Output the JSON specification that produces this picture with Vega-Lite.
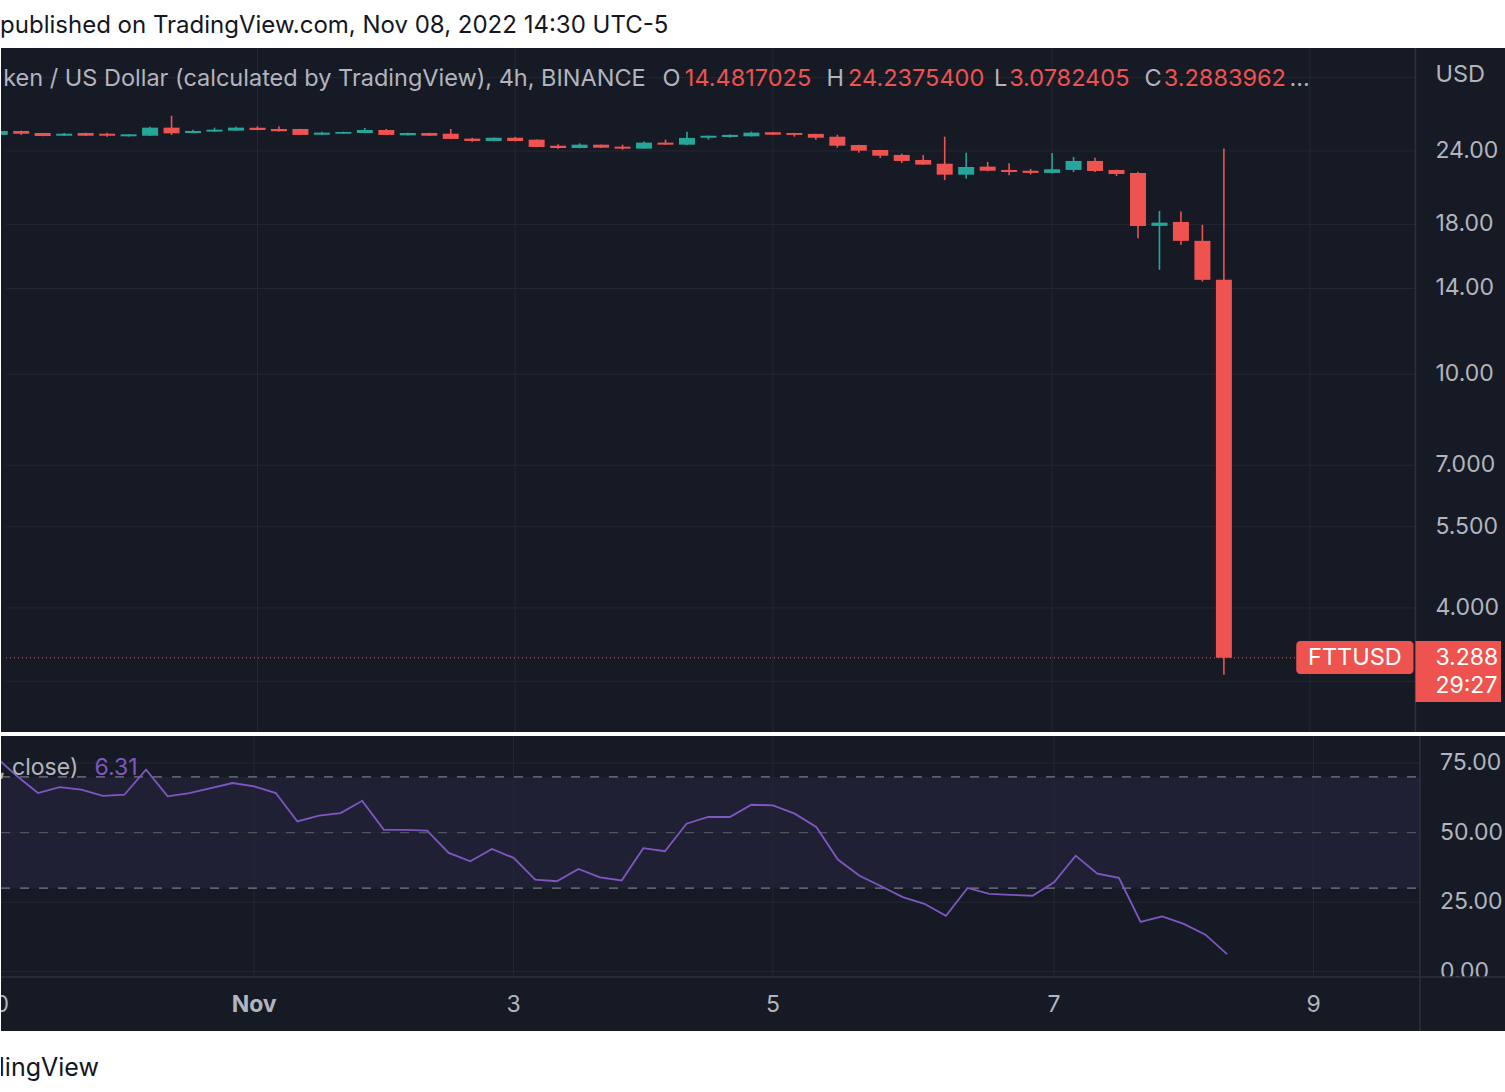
{
  "$schema": "https://vega.github.io/schema/vega-lite/v6.json",
  "background": "#ffffff",
  "padding": 0,
  "spacing": 2,
  "config": {"view": {"stroke": null}, "font": "Inter", "text": {"font": "Inter"}},
  "resolve": {"scale": {"x": "independent", "y": "independent"}},
  "datasets": {
    "bars": [
      {"i":0,"o":25.56,"h":26.00,"l":25.50,"c":25.96,"rsi":77.5},
      {"i":1,"o":25.96,"h":25.98,"l":25.56,"c":25.68,"rsi":70.5},
      {"i":2,"o":25.75,"h":25.77,"l":25.43,"c":25.45,"rsi":64.2},
      {"i":3,"o":25.48,"h":25.75,"l":25.46,"c":25.68,"rsi":66.3},
      {"i":4,"o":25.75,"h":25.78,"l":25.46,"c":25.48,"rsi":65.4},
      {"i":5,"o":25.68,"h":25.79,"l":25.38,"c":25.48,"rsi":63.2},
      {"i":6,"o":25.42,"h":25.65,"l":25.40,"c":25.62,"rsi":63.6},
      {"i":7,"o":25.48,"h":26.40,"l":25.46,"c":26.30,"rsi":72.6},
      {"i":8,"o":26.30,"h":27.56,"l":25.56,"c":25.72,"rsi":63.0},
      {"i":9,"o":25.75,"h":26.09,"l":25.73,"c":25.96,"rsi":64.2},
      {"i":10,"o":25.89,"h":26.30,"l":25.87,"c":26.09,"rsi":66.0},
      {"i":11,"o":25.99,"h":26.40,"l":25.97,"c":26.30,"rsi":67.8},
      {"i":12,"o":26.30,"h":26.44,"l":26.03,"c":26.06,"rsi":66.6},
      {"i":13,"o":26.16,"h":26.44,"l":25.91,"c":25.93,"rsi":64.2},
      {"i":14,"o":26.16,"h":26.18,"l":25.54,"c":25.56,"rsi":54.0},
      {"i":15,"o":25.58,"h":25.89,"l":25.56,"c":25.79,"rsi":56.1},
      {"i":16,"o":25.68,"h":25.89,"l":25.66,"c":25.86,"rsi":57.0},
      {"i":17,"o":25.75,"h":26.27,"l":25.73,"c":26.06,"rsi":61.4},
      {"i":18,"o":26.06,"h":26.16,"l":25.54,"c":25.56,"rsi":51.0},
      {"i":19,"o":25.52,"h":25.78,"l":25.50,"c":25.75,"rsi":51.0},
      {"i":20,"o":25.75,"h":25.78,"l":25.46,"c":25.48,"rsi":50.7},
      {"i":21,"o":25.68,"h":26.16,"l":25.14,"c":25.16,"rsi":42.7},
      {"i":22,"o":25.19,"h":25.28,"l":24.88,"c":24.96,"rsi":39.7},
      {"i":23,"o":24.96,"h":25.30,"l":24.94,"c":25.28,"rsi":44.1},
      {"i":24,"o":25.28,"h":25.38,"l":24.94,"c":24.96,"rsi":40.9},
      {"i":25,"o":25.09,"h":25.11,"l":24.36,"c":24.38,"rsi":33.1},
      {"i":26,"o":24.50,"h":24.63,"l":24.22,"c":24.28,"rsi":32.5},
      {"i":27,"o":24.28,"h":24.73,"l":24.26,"c":24.60,"rsi":36.9},
      {"i":28,"o":24.60,"h":24.62,"l":24.29,"c":24.31,"rsi":33.9},
      {"i":29,"o":24.41,"h":24.60,"l":24.12,"c":24.22,"rsi":32.8},
      {"i":30,"o":24.22,"h":24.90,"l":24.20,"c":24.80,"rsi":44.4},
      {"i":31,"o":24.80,"h":25.09,"l":24.58,"c":24.60,"rsi":43.3},
      {"i":32,"o":24.60,"h":25.89,"l":24.58,"c":25.26,"rsi":53.2},
      {"i":33,"o":25.28,"h":25.50,"l":25.09,"c":25.48,"rsi":55.6},
      {"i":34,"o":25.35,"h":25.62,"l":25.28,"c":25.56,"rsi":55.6},
      {"i":35,"o":25.42,"h":25.89,"l":25.40,"c":25.79,"rsi":60.0},
      {"i":36,"o":25.83,"h":25.86,"l":25.56,"c":25.58,"rsi":59.8},
      {"i":37,"o":25.75,"h":25.77,"l":25.38,"c":25.56,"rsi":56.8},
      {"i":38,"o":25.66,"h":25.68,"l":25.09,"c":25.28,"rsi":52.0},
      {"i":39,"o":25.38,"h":25.58,"l":24.31,"c":24.50,"rsi":40.3},
      {"i":40,"o":24.57,"h":24.59,"l":23.84,"c":24.03,"rsi":34.5},
      {"i":41,"o":24.09,"h":24.11,"l":23.35,"c":23.56,"rsi":30.7},
      {"i":42,"o":23.63,"h":23.75,"l":22.90,"c":23.08,"rsi":26.8},
      {"i":43,"o":23.17,"h":23.63,"l":22.73,"c":22.75,"rsi":24.4},
      {"i":44,"o":22.83,"h":25.38,"l":21.42,"c":21.87,"rsi":20.1},
      {"i":45,"o":21.87,"h":23.84,"l":21.53,"c":22.54,"rsi":30.1},
      {"i":46,"o":22.57,"h":22.99,"l":22.16,"c":22.21,"rsi":28.0},
      {"i":47,"o":22.28,"h":22.87,"l":21.82,"c":22.10,"rsi":27.6},
      {"i":48,"o":22.21,"h":22.37,"l":21.90,"c":22.02,"rsi":27.3},
      {"i":49,"o":22.02,"h":23.81,"l":22.00,"c":22.34,"rsi":32.1},
      {"i":50,"o":22.28,"h":23.44,"l":22.10,"c":23.08,"rsi":41.7},
      {"i":51,"o":23.08,"h":23.38,"l":22.10,"c":22.19,"rsi":35.2},
      {"i":52,"o":22.28,"h":22.30,"l":21.76,"c":21.93,"rsi":33.7},
      {"i":53,"o":22.02,"h":22.13,"l":17.05,"c":17.89,"rsi":17.9},
      {"i":54,"o":17.89,"h":18.97,"l":15.06,"c":18.12,"rsi":19.9},
      {"i":55,"o":18.17,"h":18.92,"l":16.61,"c":16.87,"rsi":17.2},
      {"i":56,"o":16.87,"h":17.96,"l":14.38,"c":14.48,"rsi":13.3},
      {"i":57,"o":14.4817025,"h":24.23754,"l":3.0782405,"c":3.2883962,"rsi":6.31}
    ],
    "pgrid": [{"v":32},{"v":24},{"v":18},{"v":14},{"v":10},{"v":7},{"v":5.5},{"v":4},{"v":3}],
    "vgrid": [{"i":12},{"i":24},{"i":36},{"i":49},{"i":61}],
    "plabels": [{"v":24,"t":"24.00"},{"v":18,"t":"18.00"},{"v":14,"t":"14.00"},{"v":10,"t":"10.00"},{"v":7,"t":"7.000"},{"v":5.5,"t":"5.500"},{"v":4,"t":"4.000"}],
    "rgrid": [{"v":75},{"v":50},{"v":25},{"v":0}],
    "rlabels": [{"v":75,"t":"75.00"},{"v":50,"t":"50.00"},{"v":25,"t":"25.00"},{"v":0,"t":"0.00"}],
    "dates": [{"i":0,"t":"30"},{"i":24,"t":"3"},{"i":36,"t":"5"},{"i":49,"t":"7"},{"i":61,"t":"9"}]
  },
  "vconcat": [
    {
      "width": 1505, "height": 45,
      "view": {"fill": "#ffffff"},
      "data": {"values": [{}]},
      "mark": {"type": "text", "align": "left", "baseline": "alphabetic", "fontSize": 24, "color": "#131722", "clip": true},
      "encoding": {
        "x": {"datum": 0.25, "type": "quantitative", "scale": {"domain": [0.2914, 69.903], "nice": false, "zero": false}, "axis": null},
        "y": {"datum": 0.27, "type": "quantitative", "scale": {"domain": [0, 1], "nice": false}, "axis": null},
        "text": {"value": "published on TradingView.com, Nov 08, 2022 14:30 UTC-5"}
      }
    },
    {
      "width": 1505, "height": 684,
      "view": {"fill": "#161a25"},
      "layer": [
        {
          "data": {"name": "pgrid"},
          "mark": {"type": "rule", "color": "#242833", "strokeWidth": 1},
          "encoding": {
            "x": {"datum": 0.2914, "type": "quantitative", "scale": {"domain": [0.2914, 69.903], "nice": false, "zero": false}, "axis": null},
            "x2": {"datum": 65.92},
            "y": {"field": "v", "type": "quantitative", "scale": {"type": "log", "domain": [2.4587, 35.94], "nice": false}, "axis": null}
          }
        },
        {
          "data": {"name": "vgrid"},
          "mark": {"type": "rule", "color": "#242833", "strokeWidth": 1},
          "encoding": {
            "x": {"field": "i", "type": "quantitative", "scale": {"domain": [0.2914, 69.903], "nice": false, "zero": false}, "axis": null}
          }
        },
        {
          "data": {"values": [{}]},
          "mark": {"type": "rule", "color": "#2e323d", "strokeWidth": 1.5},
          "encoding": {
            "x": {"datum": 65.92, "type": "quantitative", "scale": {"domain": [0.2914, 69.903], "nice": false, "zero": false}, "axis": null}
          }
        },
        {
          "data": {"values": [{}]},
          "mark": {"type": "rule", "color": "#ef5350", "strokeWidth": 1, "strokeDash": [1, 3]},
          "encoding": {
            "x": {"datum": 0.2914, "type": "quantitative", "scale": {"domain": [0.2914, 69.903], "nice": false, "zero": false}, "axis": null},
            "x2": {"datum": 60.37},
            "y": {"datum": 3.2883962, "type": "quantitative", "scale": {"type": "log", "domain": [2.4587, 35.94], "nice": false}, "axis": null}
          }
        },
        {
          "data": {"name": "bars"},
          "mark": {"type": "rule", "strokeWidth": 1.6, "clip": true},
          "encoding": {
            "x": {"field": "i", "type": "quantitative", "scale": {"domain": [0.2914, 69.903], "nice": false, "zero": false}, "axis": null},
            "y": {"field": "l", "type": "quantitative", "scale": {"type": "log", "domain": [2.4587, 35.94], "nice": false}, "axis": null},
            "y2": {"field": "h"},
            "color": {"condition": {"test": "datum.c >= datum.o", "value": "#26a69a"}, "value": "#ef5350"}
          }
        },
        {
          "data": {"name": "bars"},
          "mark": {"type": "bar", "width": 16, "clip": true},
          "encoding": {
            "x": {"field": "i", "type": "quantitative", "scale": {"domain": [0.2914, 69.903], "nice": false, "zero": false}, "axis": null},
            "y": {"field": "o", "type": "quantitative", "scale": {"type": "log", "domain": [2.4587, 35.94], "nice": false}, "axis": null},
            "y2": {"field": "c"},
            "color": {"condition": {"test": "datum.c >= datum.o", "value": "#26a69a"}, "value": "#ef5350"}
          }
        },
        {
          "data": {"values": [{}]},
          "mark": {"type": "text", "align": "left", "baseline": "middle", "fontSize": 23.5, "color": "#b2b5be", "clip": true},
          "encoding": {
            "x": {"datum": 0.16, "type": "quantitative", "scale": {"domain": [0.2914, 69.903], "nice": false, "zero": false}, "axis": null},
            "y": {"datum": 31.83, "type": "quantitative", "scale": {"type": "log", "domain": [2.4587, 35.94], "nice": false}, "axis": null},
            "text": {"value": "ken / US Dollar (calculated by TradingView), 4h, BINANCE"}
          }
        },
        {
          "data": {"values": [{}]},
          "mark": {"type": "text", "align": "left", "baseline": "middle", "fontSize": 23.5, "color": "#b2b5be"},
          "encoding": {
            "x": {"datum": 30.86, "type": "quantitative", "scale": {"domain": [0.2914, 69.903], "nice": false, "zero": false}, "axis": null},
            "y": {"datum": 31.83, "type": "quantitative", "scale": {"type": "log", "domain": [2.4587, 35.94], "nice": false}, "axis": null},
            "text": {"value": "O"}
          }
        },
        {
          "data": {"values": [{}]},
          "mark": {"type": "text", "align": "left", "baseline": "middle", "fontSize": 23.5, "color": "#ef5350"},
          "encoding": {
            "x": {"datum": 31.9, "type": "quantitative", "scale": {"domain": [0.2914, 69.903], "nice": false, "zero": false}, "axis": null},
            "y": {"datum": 31.83, "type": "quantitative", "scale": {"type": "log", "domain": [2.4587, 35.94], "nice": false}, "axis": null},
            "text": {"value": "14.4817025"}
          }
        },
        {
          "data": {"values": [{}]},
          "mark": {"type": "text", "align": "left", "baseline": "middle", "fontSize": 23.5, "color": "#b2b5be"},
          "encoding": {
            "x": {"datum": 38.5, "type": "quantitative", "scale": {"domain": [0.2914, 69.903], "nice": false, "zero": false}, "axis": null},
            "y": {"datum": 31.83, "type": "quantitative", "scale": {"type": "log", "domain": [2.4587, 35.94], "nice": false}, "axis": null},
            "text": {"value": "H"}
          }
        },
        {
          "data": {"values": [{}]},
          "mark": {"type": "text", "align": "left", "baseline": "middle", "fontSize": 23.5, "color": "#ef5350"},
          "encoding": {
            "x": {"datum": 39.5, "type": "quantitative", "scale": {"domain": [0.2914, 69.903], "nice": false, "zero": false}, "axis": null},
            "y": {"datum": 31.83, "type": "quantitative", "scale": {"type": "log", "domain": [2.4587, 35.94], "nice": false}, "axis": null},
            "text": {"value": "24.2375400"}
          }
        },
        {
          "data": {"values": [{}]},
          "mark": {"type": "text", "align": "left", "baseline": "middle", "fontSize": 23.5, "color": "#b2b5be"},
          "encoding": {
            "x": {"datum": 46.3, "type": "quantitative", "scale": {"domain": [0.2914, 69.903], "nice": false, "zero": false}, "axis": null},
            "y": {"datum": 31.83, "type": "quantitative", "scale": {"type": "log", "domain": [2.4587, 35.94], "nice": false}, "axis": null},
            "text": {"value": "L"}
          }
        },
        {
          "data": {"values": [{}]},
          "mark": {"type": "text", "align": "left", "baseline": "middle", "fontSize": 23.5, "color": "#ef5350"},
          "encoding": {
            "x": {"datum": 47.0, "type": "quantitative", "scale": {"domain": [0.2914, 69.903], "nice": false, "zero": false}, "axis": null},
            "y": {"datum": 31.83, "type": "quantitative", "scale": {"type": "log", "domain": [2.4587, 35.94], "nice": false}, "axis": null},
            "text": {"value": "3.0782405"}
          }
        },
        {
          "data": {"values": [{}]},
          "mark": {"type": "text", "align": "left", "baseline": "middle", "fontSize": 23.5, "color": "#b2b5be"},
          "encoding": {
            "x": {"datum": 53.3, "type": "quantitative", "scale": {"domain": [0.2914, 69.903], "nice": false, "zero": false}, "axis": null},
            "y": {"datum": 31.83, "type": "quantitative", "scale": {"type": "log", "domain": [2.4587, 35.94], "nice": false}, "axis": null},
            "text": {"value": "C"}
          }
        },
        {
          "data": {"values": [{}]},
          "mark": {"type": "text", "align": "left", "baseline": "middle", "fontSize": 23.5, "color": "#ef5350"},
          "encoding": {
            "x": {"datum": 54.2, "type": "quantitative", "scale": {"domain": [0.2914, 69.903], "nice": false, "zero": false}, "axis": null},
            "y": {"datum": 31.83, "type": "quantitative", "scale": {"type": "log", "domain": [2.4587, 35.94], "nice": false}, "axis": null},
            "text": {"value": "3.2883962"}
          }
        },
        {
          "data": {"values": [{}]},
          "mark": {"type": "text", "align": "left", "baseline": "middle", "fontSize": 23.5, "color": "#b2b5be"},
          "encoding": {
            "x": {"datum": 60.05, "type": "quantitative", "scale": {"domain": [0.2914, 69.903], "nice": false, "zero": false}, "axis": null},
            "y": {"datum": 31.83, "type": "quantitative", "scale": {"type": "log", "domain": [2.4587, 35.94], "nice": false}, "axis": null},
            "text": {"value": "..."}
          }
        },
        {
          "data": {"name": "plabels"},
          "mark": {"type": "text", "align": "left", "baseline": "middle", "fontSize": 23, "color": "#b2b5be", "clip": true},
          "encoding": {
            "x": {"datum": 66.85, "type": "quantitative", "scale": {"domain": [0.2914, 69.903], "nice": false, "zero": false}, "axis": null},
            "y": {"field": "v", "type": "quantitative", "scale": {"type": "log", "domain": [2.4587, 35.94], "nice": false}, "axis": null},
            "text": {"field": "t"}
          }
        },
        {
          "data": {"values": [{}]},
          "mark": {"type": "text", "align": "left", "baseline": "middle", "fontSize": 23.5, "color": "#b2b5be"},
          "encoding": {
            "x": {"datum": 66.85, "type": "quantitative", "scale": {"domain": [0.2914, 69.903], "nice": false, "zero": false}, "axis": null},
            "y": {"datum": 32.33, "type": "quantitative", "scale": {"type": "log", "domain": [2.4587, 35.94], "nice": false}, "axis": null},
            "text": {"value": "USD"}
          }
        },
        {
          "data": {"values": [{}]},
          "mark": {"type": "rect", "color": "#ef5350", "cornerRadius": 4},
          "encoding": {
            "x": {"datum": 60.37, "type": "quantitative", "scale": {"domain": [0.2914, 69.903], "nice": false, "zero": false}, "axis": null},
            "x2": {"datum": 65.83},
            "y": {"datum": 3.513, "type": "quantitative", "scale": {"type": "log", "domain": [2.4587, 35.94], "nice": false}, "axis": null},
            "y2": {"datum": 3.087}
          }
        },
        {
          "data": {"values": [{}]},
          "mark": {"type": "rect", "color": "#ef5350", "clip": true},
          "encoding": {
            "x": {"datum": 65.92, "type": "quantitative", "scale": {"domain": [0.2914, 69.903], "nice": false, "zero": false}, "axis": null},
            "x2": {"datum": 69.903},
            "y": {"datum": 3.513, "type": "quantitative", "scale": {"type": "log", "domain": [2.4587, 35.94], "nice": false}, "axis": null},
            "y2": {"datum": 2.766}
          }
        },
        {
          "data": {"values": [{}]},
          "mark": {"type": "text", "align": "center", "baseline": "middle", "fontSize": 23.5, "color": "#ffffff"},
          "encoding": {
            "x": {"datum": 63.1, "type": "quantitative", "scale": {"domain": [0.2914, 69.903], "nice": false, "zero": false}, "axis": null},
            "y": {"datum": 3.2883962, "type": "quantitative", "scale": {"type": "log", "domain": [2.4587, 35.94], "nice": false}, "axis": null},
            "text": {"value": "FTTUSD"}
          }
        },
        {
          "data": {"values": [{}]},
          "mark": {"type": "text", "align": "left", "baseline": "middle", "fontSize": 23, "color": "#ffffff", "clip": true},
          "encoding": {
            "x": {"datum": 66.85, "type": "quantitative", "scale": {"domain": [0.2914, 69.903], "nice": false, "zero": false}, "axis": null},
            "y": {"datum": 3.2883962, "type": "quantitative", "scale": {"type": "log", "domain": [2.4587, 35.94], "nice": false}, "axis": null},
            "text": {"value": "3.288"}
          }
        },
        {
          "data": {"values": [{}]},
          "mark": {"type": "text", "align": "left", "baseline": "middle", "fontSize": 23, "color": "#ffffff", "clip": true},
          "encoding": {
            "x": {"datum": 66.85, "type": "quantitative", "scale": {"domain": [0.2914, 69.903], "nice": false, "zero": false}, "axis": null},
            "y": {"datum": 2.945, "type": "quantitative", "scale": {"type": "log", "domain": [2.4587, 35.94], "nice": false}, "axis": null},
            "text": {"value": "29:27"}
          }
        }
      ]
    },
    {
      "width": 1505, "height": 295,
      "view": {"fill": "#161a25"},
      "layer": [
        {
          "data": {"values": [{}]},
          "mark": {"type": "rect", "color": "#7e57c2", "opacity": 0.1},
          "encoding": {
            "x": {"datum": 0.2914, "type": "quantitative", "scale": {"domain": [0.2914, 69.903], "nice": false, "zero": false}, "axis": null},
            "x2": {"datum": 65.92},
            "y": {"datum": 30, "type": "quantitative", "scale": {"domain": [-21.31, 84.7], "nice": false, "zero": false}, "axis": null},
            "y2": {"datum": 70}
          }
        },
        {
          "data": {"name": "rgrid"},
          "mark": {"type": "rule", "color": "#242833", "strokeWidth": 1},
          "encoding": {
            "x": {"datum": 0.2914, "type": "quantitative", "scale": {"domain": [0.2914, 69.903], "nice": false, "zero": false}, "axis": null},
            "x2": {"datum": 65.92},
            "y": {"field": "v", "type": "quantitative", "scale": {"domain": [-21.31, 84.7], "nice": false, "zero": false}, "axis": null}
          }
        },
        {
          "data": {"name": "vgrid"},
          "mark": {"type": "rule", "color": "#242833", "strokeWidth": 1},
          "encoding": {
            "x": {"field": "i", "type": "quantitative", "scale": {"domain": [0.2914, 69.903], "nice": false, "zero": false}, "axis": null},
            "y": {"datum": -1.9, "type": "quantitative", "scale": {"domain": [-21.31, 84.7], "nice": false, "zero": false}, "axis": null},
            "y2": {"datum": 84.7}
          }
        },
        {
          "data": {"values": [{"v": 70}, {"v": 30}]},
          "mark": {"type": "rule", "color": "#787b86", "strokeWidth": 1.2, "strokeDash": [9, 10]},
          "encoding": {
            "x": {"datum": 0.2914, "type": "quantitative", "scale": {"domain": [0.2914, 69.903], "nice": false, "zero": false}, "axis": null},
            "x2": {"datum": 65.92},
            "y": {"field": "v", "type": "quantitative", "scale": {"domain": [-21.31, 84.7], "nice": false, "zero": false}, "axis": null}
          }
        },
        {
          "data": {"values": [{"v": 50}]},
          "mark": {"type": "rule", "color": "#787b86", "opacity": 0.55, "strokeWidth": 1.2, "strokeDash": [9, 10]},
          "encoding": {
            "x": {"datum": 0.2914, "type": "quantitative", "scale": {"domain": [0.2914, 69.903], "nice": false, "zero": false}, "axis": null},
            "x2": {"datum": 65.92},
            "y": {"field": "v", "type": "quantitative", "scale": {"domain": [-21.31, 84.7], "nice": false, "zero": false}, "axis": null}
          }
        },
        {
          "data": {"name": "bars"},
          "mark": {"type": "line", "color": "#7e57c2", "strokeWidth": 1.8, "clip": true},
          "encoding": {
            "x": {"field": "i", "type": "quantitative", "scale": {"domain": [0.2914, 69.903], "nice": false, "zero": false}, "axis": null},
            "y": {"field": "rsi", "type": "quantitative", "scale": {"domain": [-21.31, 84.7], "nice": false, "zero": false}, "axis": null}
          }
        },
        {
          "data": {"name": "rlabels"},
          "mark": {"type": "text", "align": "left", "baseline": "middle", "fontSize": 23, "color": "#b2b5be", "clip": true},
          "encoding": {
            "x": {"datum": 66.85, "type": "quantitative", "scale": {"domain": [0.2914, 69.903], "nice": false, "zero": false}, "axis": null},
            "y": {"field": "v", "type": "quantitative", "scale": {"domain": [-21.31, 84.7], "nice": false, "zero": false}, "axis": null},
            "text": {"field": "t"}
          }
        },
        {
          "data": {"values": [{}]},
          "mark": {"type": "rect", "color": "#161a25"},
          "encoding": {
            "x": {"datum": 0.2914, "type": "quantitative", "scale": {"domain": [0.2914, 69.903], "nice": false, "zero": false}, "axis": null},
            "x2": {"datum": 69.903},
            "y": {"datum": -1.9, "type": "quantitative", "scale": {"domain": [-21.31, 84.7], "nice": false, "zero": false}, "axis": null},
            "y2": {"datum": -21.31}
          }
        },
        {
          "data": {"values": [{}]},
          "mark": {"type": "rule", "color": "#2e323d", "strokeWidth": 1.5},
          "encoding": {
            "x": {"datum": 0.2914, "type": "quantitative", "scale": {"domain": [0.2914, 69.903], "nice": false, "zero": false}, "axis": null},
            "x2": {"datum": 69.903},
            "y": {"datum": -1.9, "type": "quantitative", "scale": {"domain": [-21.31, 84.7], "nice": false, "zero": false}, "axis": null}
          }
        },
        {
          "data": {"values": [{}]},
          "mark": {"type": "rule", "color": "#2e323d", "strokeWidth": 1.5},
          "encoding": {
            "x": {"datum": 65.92, "type": "quantitative", "scale": {"domain": [0.2914, 69.903], "nice": false, "zero": false}, "axis": null}
          }
        },
        {
          "data": {"name": "dates"},
          "mark": {"type": "text", "align": "center", "baseline": "middle", "fontSize": 23, "color": "#b2b5be", "clip": true},
          "encoding": {
            "x": {"field": "i", "type": "quantitative", "scale": {"domain": [0.2914, 69.903], "nice": false, "zero": false}, "axis": null},
            "y": {"datum": -11.97, "type": "quantitative", "scale": {"domain": [-21.31, 84.7], "nice": false, "zero": false}, "axis": null},
            "text": {"field": "t"}
          }
        },
        {
          "data": {"values": [{}]},
          "mark": {"type": "text", "align": "center", "baseline": "middle", "fontSize": 23, "fontWeight": "bold", "color": "#b2b5be"},
          "encoding": {
            "x": {"datum": 12, "type": "quantitative", "scale": {"domain": [0.2914, 69.903], "nice": false, "zero": false}, "axis": null},
            "y": {"datum": -11.97, "type": "quantitative", "scale": {"domain": [-21.31, 84.7], "nice": false, "zero": false}, "axis": null},
            "text": {"value": "Nov"}
          }
        },
        {
          "data": {"values": [{}]},
          "mark": {"type": "text", "align": "left", "baseline": "middle", "fontSize": 23, "color": "#b2b5be", "clip": true},
          "encoding": {
            "x": {"datum": 0.2, "type": "quantitative", "scale": {"domain": [0.2914, 69.903], "nice": false, "zero": false}, "axis": null},
            "y": {"datum": 73.2, "type": "quantitative", "scale": {"domain": [-21.31, 84.7], "nice": false, "zero": false}, "axis": null},
            "text": {"value": ", close)"}
          }
        },
        {
          "data": {"values": [{}]},
          "mark": {"type": "text", "align": "left", "baseline": "middle", "fontSize": 23, "color": "#7e57c2"},
          "encoding": {
            "x": {"datum": 4.62, "type": "quantitative", "scale": {"domain": [0.2914, 69.903], "nice": false, "zero": false}, "axis": null},
            "y": {"datum": 73.2, "type": "quantitative", "scale": {"domain": [-21.31, 84.7], "nice": false, "zero": false}, "axis": null},
            "text": {"value": "6.31"}
          }
        }
      ]
    },
    {
      "width": 1505, "height": 62,
      "view": {"fill": "#ffffff"},
      "data": {"values": [{}]},
      "mark": {"type": "text", "align": "right", "baseline": "middle", "fontSize": 25, "color": "#131722", "clip": true},
      "encoding": {
        "x": {"datum": 4.82, "type": "quantitative", "scale": {"domain": [0.2914, 69.903], "nice": false, "zero": false}, "axis": null},
        "y": {"datum": 0.45, "type": "quantitative", "scale": {"domain": [0, 1], "nice": false}, "axis": null},
        "text": {"value": "TradingView"}
      }
    }
  ]
}
